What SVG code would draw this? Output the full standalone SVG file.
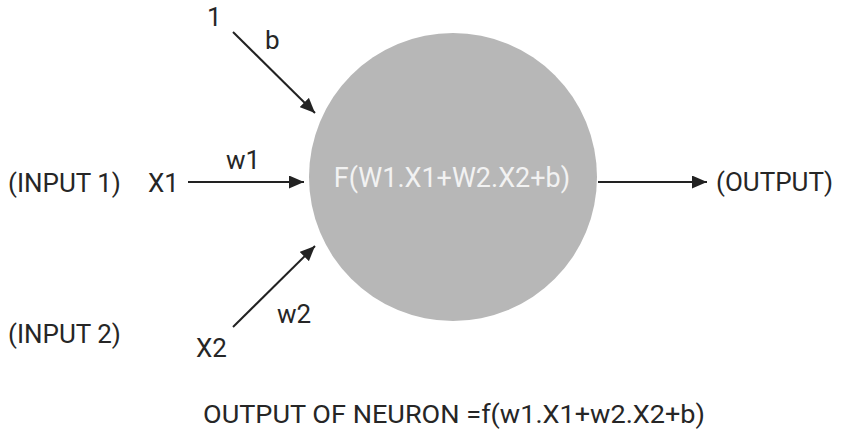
<svg xmlns="http://www.w3.org/2000/svg" width="841" height="432" viewBox="0 0 841 432">
<style>
text{font-family:Roboto,"Liberation Sans",sans-serif;font-size:26px;fill:#262626}
.conn line{stroke:#222;stroke-width:2}
text.inner{fill:#f2f2f2;font-size:27px}
text.formula{font-size:26.5px}
</style>
<defs>
<marker id="ah" viewBox="0 0 15 13" refX="15" refY="6.5" markerWidth="15" markerHeight="13" markerUnits="userSpaceOnUse" orient="auto">
<path d="M0,0 L15,6.5 L0,13 Z" fill="#222"/>
</marker>
</defs>
<rect width="841" height="432" fill="#fff"/>
<g id="neuron">
<circle cx="453" cy="177" r="144" fill="#b7b7b7"/>
<text class="inner" x="452" y="187" text-anchor="middle">F(W1.X1+W2.X2+b)</text>
</g>
<g id="bias">
<text x="207" y="26">1</text>
<text x="265" y="49">b</text>
</g>
<g id="input1">
<text x="8" y="192">(INPUT 1)</text>
<text x="148" y="192">X1</text>
<text x="226" y="169">w1</text>
</g>
<g id="input2">
<text x="8" y="343">(INPUT 2)</text>
<text x="196" y="357">X2</text>
<text x="277" y="323">w2</text>
</g>
<g id="output">
<text x="716" y="191">(OUTPUT)</text>
</g>
<g id="formula">
<text class="formula" x="203" y="423" textLength="502" lengthAdjust="spacingAndGlyphs">OUTPUT OF NEURON =f(w1.X1+w2.X2+b)</text>
</g>
<g class="conn" id="connectors">
<line x1="233" y1="32" x2="315" y2="113" marker-end="url(#ah)"/>
<line x1="188" y1="182" x2="304" y2="182" marker-end="url(#ah)"/>
<line x1="233" y1="327" x2="315" y2="246" marker-end="url(#ah)"/>
<line x1="598" y1="182" x2="707" y2="182" marker-end="url(#ah)"/>
</g>
</svg>
